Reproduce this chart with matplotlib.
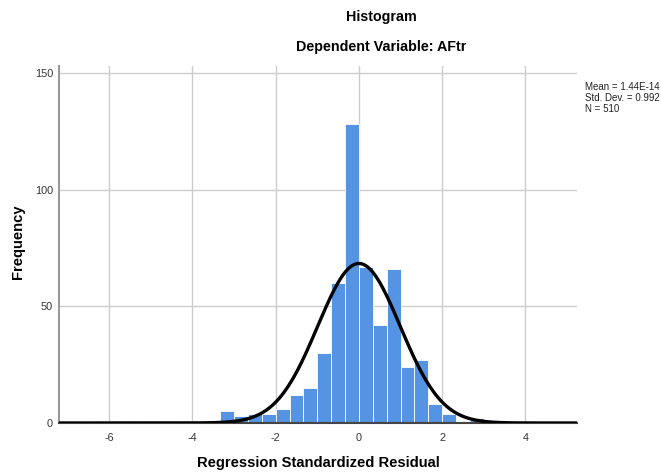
import numpy as np
import matplotlib
matplotlib.use("Agg")
import matplotlib.pyplot as plt

plt.rcParams['font.family'] = ['Liberation Sans', 'DejaVu Sans']
plt.rcParams['axes.unicode_minus'] = False

# ---- data ----
bin_width = 1.0 / 3.0
first_edge = -16.0 / 3.0
counts = [1, 0, 0, 1, 1, 0, 5, 3, 4, 4, 6, 12, 15, 30, 60, 128,
          67, 42, 66, 24, 27, 8, 4, 0, 2]
mean_val = 1.44e-14
std_val = 0.992
n_val = 510
x_ticks = [-6, -4, -2, 0, 2, 4]
y_ticks = [0, 50, 100, 150]

edges = first_edge + bin_width * np.arange(len(counts))

fig = plt.figure(figsize=(6.61, 4.72), dpi=100)
ax = fig.add_axes([58.5 / 661, 1 - 423 / 472, (577 - 58.5) / 661, (423 - 66) / 472])

ax.set_axisbelow(True)
ax.grid(True, color='#cccccc', linewidth=1.0)
ax.bar(edges, counts, width=bin_width, align='edge', color='#5593e3',
       edgecolor='white', linewidth=0.6, zorder=2)

xlim = (-7.22, 5.24)
xs = np.linspace(xlim[0], xlim[1], 600)
ys = n_val * bin_width * np.exp(-0.5 * ((xs - mean_val) / std_val) ** 2) / (std_val * np.sqrt(2 * np.pi))
ax.plot(xs, ys, color='black', linewidth=2.4, zorder=3)

ax.set_xlim(*xlim)
ax.set_ylim(0, 153)
ax.set_xticks(x_ticks)
ax.set_yticks(y_ticks)
ax.tick_params(axis='both', length=0, labelsize=7.8, colors='#333333')
ax.tick_params(axis='y', pad=4)
ax.tick_params(axis='x', pad=7.5)

for s in ['top', 'right']:
    ax.spines[s].set_visible(False)
ax.spines['left'].set_color('#999999')
ax.spines['left'].set_linewidth(1.5)
ax.spines['bottom'].set_color('#444444')
ax.spines['bottom'].set_linewidth(1.5)

fig.text(318 / 661, 1 - 463 / 472, 'Regression Standardized Residual', ha='center', va='center',
         fontsize=10.6, fontweight='bold')
fig.text(18 / 661, 1 - 242 / 472, 'Frequency', ha='center', va='center', rotation=90,
         fontsize=10.6, fontweight='bold')

fig.text(381 / 661, 1 - 17 / 472, 'Histogram', ha='center', va='center', fontsize=10.3, fontweight='bold')
fig.text(381 / 661, 1 - 47 / 472, 'Dependent Variable: AFtr', ha='center', va='center', fontsize=10.3, fontweight='bold')

fig.text(585 / 661, 1 - 82 / 472,
         'Mean = 1.44E-14\nStd. Dev. = 0.992\nN = 510',
         ha='left', va='top', fontsize=7, linespacing=1.1, color='#222222')

fig.savefig('out.png', dpi=100)
